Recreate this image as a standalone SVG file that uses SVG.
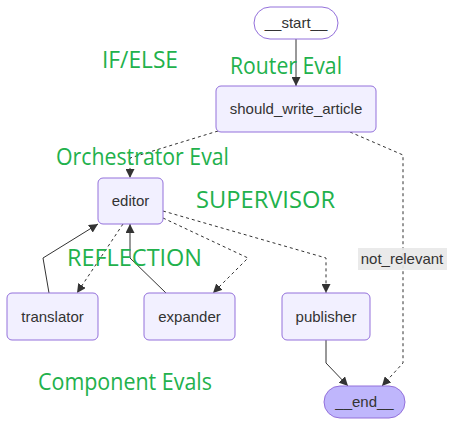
<svg xmlns="http://www.w3.org/2000/svg" width="456" height="426" viewBox="0 0 456 426">
<defs>
<marker id="arrow" viewBox="0 0 10 10" refX="10" refY="5" markerWidth="9" markerHeight="9" markerUnits="userSpaceOnUse" orient="auto">
<path d="M0,0 L10,5 L0,10 z" fill="#333333"/>
</marker>
<style>
.node rect{fill:#f2f0ff;stroke:#9370DB;stroke-width:1}
.node text{font-family:"Liberation Sans",Arial,sans-serif;font-size:15px;fill:#333333;text-anchor:middle}
.edge{fill:none;stroke:#333333;stroke-width:1;marker-end:url(#arrow)}
.dash{stroke-dasharray:3,3}
.note{font-family:"Open Sans",sans-serif;font-size:23px;fill:#22b14c}
.elabel{font-family:"Liberation Sans",Arial,sans-serif;font-size:15px;fill:#333333;text-anchor:middle}
</style>
</defs>
<rect width="456" height="426" fill="#ffffff"/>
<g id="connectors">
<path class="edge" d="M296,39 L296,86"/>
<path class="edge dash" d="M218,131 L130,158 L130,178"/>
<path class="edge dash" d="M350,132 L403,155 L403,363 L382,386"/>
<path class="edge dash" d="M123,224 L77,293"/>
<path class="edge dash" d="M163,218 L248,258 L213,293"/>
<path class="edge dash" d="M163,211 L326,258 L326,293"/>
<path class="edge" d="M49,293 L43,258 L98,224"/>
<path class="edge" d="M166,293 L130,258 L130,224"/>
<path class="edge" d="M326,340 L326,363 L348,386"/>
<g id="label-not_relevant">
<rect x="358" y="248" width="89" height="22" fill="#e8e8e8" opacity="0.9"/>
<text class="elabel" x="402" y="264">not_relevant</text>
</g>
</g>
<g id="node-start" class="node">
<rect x="254" y="7" width="84" height="32" rx="16" style="fill:#ffffff"/>
<text x="296" y="28">__start__</text>
</g>
<g id="node-should_write_article" class="node">
<rect x="216" y="86" width="160" height="46" rx="5"/>
<text x="296" y="114">should_write_article</text>
</g>
<g id="node-editor" class="node">
<rect x="98" y="178" width="65" height="46" rx="5"/>
<text x="130.5" y="206">editor</text>
</g>
<g id="node-translator" class="node">
<rect x="7" y="293" width="91" height="47" rx="5"/>
<text x="52.5" y="322">translator</text>
</g>
<g id="node-expander" class="node">
<rect x="144" y="293" width="91" height="47" rx="5"/>
<text x="189.5" y="322">expander</text>
</g>
<g id="node-publisher" class="node">
<rect x="282" y="293" width="88" height="47" rx="5"/>
<text x="326" y="322">publisher</text>
</g>
<g id="node-end" class="node">
<rect x="324" y="386" width="81" height="32" rx="16" style="fill:#bfb6fc"/>
<text x="364.5" y="407">__end__</text>
</g>
<g id="annotations">
<text class="note" x="102" y="68" textLength="76" lengthAdjust="spacingAndGlyphs">IF/ELSE</text>
<text class="note" x="230" y="74" textLength="112" lengthAdjust="spacingAndGlyphs">Router Eval</text>
<text class="note" x="56" y="165" textLength="173" lengthAdjust="spacingAndGlyphs">Orchestrator Eval</text>
<text class="note" x="196" y="208" textLength="139" lengthAdjust="spacingAndGlyphs">SUPERVISOR</text>
<text class="note" x="67" y="266" textLength="135" lengthAdjust="spacingAndGlyphs">REFLECTION</text>
<text class="note" x="38" y="390" textLength="174" lengthAdjust="spacingAndGlyphs">Component Evals</text>
</g>
</svg>
